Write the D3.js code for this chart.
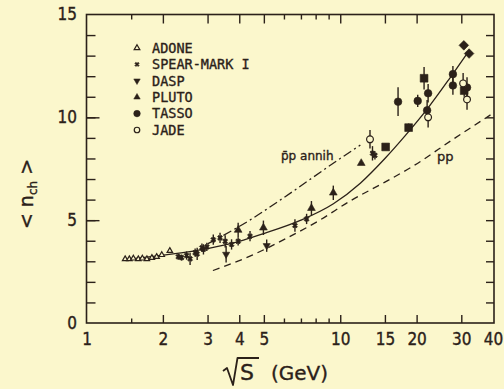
<!DOCTYPE html>
<html>
<head>
<meta charset="utf-8">
<script src="https://cdnjs.cloudflare.com/ajax/libs/d3/7.8.5/d3.min.js"></script>
<style>
  html, body { margin: 0; padding: 0; background: #fbf7cc; }
  svg { display: block; }
  text { fill: #2b2119; stroke: #2b2119; stroke-width: 0.35px; }
</style>
</head>
<body>
<svg id="chart" width="504" height="389"></svg>
<script>
// values: sqrt(s) in GeV, mean charged multiplicity
var adoneX = [1.42, 1.475, 1.53, 1.6, 1.66, 1.73, 1.81, 1.89, 1.98, 2.13];
var adoneY = [3.11, 3.11, 3.14, 3.11, 3.14, 3.11, 3.17, 3.22, 3.31, 3.51];

var spearX = [2.30, 2.37, 2.48, 2.56, 2.68, 2.73, 2.85, 2.89, 2.98, 3.16, 3.36, 3.52, 3.73, 3.96, 4.41, 6.63, 7.37, 13.4, 13.7];
var spearY = [3.22, 3.18, 3.28, 3.12, 3.42, 3.36, 3.66, 3.58, 3.70, 4.05, 4.14, 3.97, 3.82, 3.97, 4.22, 4.74, 5.06, 8.25, 8.15];
var spearErr = [0.15, 0.15, 0.2, 0.3, 0.2, 0.3, 0.2, 0.25, 0.2, 0.25, 0.25, 0.3, 0.25, 0.2, 0.25, 0.3, 0.25, 0.35, 0.2];

var daspX = [3.55, 5.13];
var daspY = [3.34, 3.76];
var daspErr = [0.4, 0.3];

var plutoX = [3.96, 4.98, 7.70, 9.39, 12.1];
var plutoY = [4.52, 4.63, 5.58, 6.33, 7.77];
var plutoErr = [0.35, 0.35, 0.35, 0.35, 0];

var tassoX = [16.9, 20.2, 22.0, 22.2, 27.8, 27.8, 31.6];
var tassoY = [10.76, 10.8, 10.34, 11.17, 12.1, 11.55, 11.45];
var tassoErr = [0.7, 0.3, 0.5, 0.45, 0.4, 0.45, 0.5];

var jadeX = [13.1, 22.2, 30.5, 31.6];
var jadeY = [8.93, 10.0, 11.65, 10.87];
var jadeErr = [0.45, 0.5, 0.5, 0.5];

// unlabelled marks (squares, diamonds)
var squareX = [15.1, 18.6, 21.4, 30.8];
var squareY = [8.56, 9.5, 11.9, 11.3];
var squareErr = [0.15, 0.2, 0.55, 0.3];
var diamondX = [30.7, 32.2];
var diamondY = [13.5, 13.1];

// curves
var fitX = [1.4, 2, 3, 4, 5, 7, 9.4, 12, 15, 18, 22, 27, 32];
var fitY = [3.08, 3.3, 3.62, 3.97, 4.35, 5.0, 5.8, 6.8, 8.0, 9.1, 10.4, 11.9, 13.2];
var annX = [3.0, 4.4, 6.0, 10, 12];
var annY = [3.85, 5.0, 6.1, 8.0, 8.65];
var ppX = [3.15, 4.5, 6.1, 8.3, 11, 15, 19.2, 28, 40];
var ppY = [2.55, 3.3, 4.1, 5.0, 5.95, 6.85, 7.6, 8.95, 10.2];

var xLabels = [1, 2, 3, 4, 5, 10, 15, 20, 30, 40];
var xMajor = [2, 3, 4, 5, 10, 15, 20, 30];
var xMinor = [1.5, 6, 7, 8, 9];
var yLabels = [0, 5, 10, 15];
var legendNames = ['ADONE', 'SPEAR-MARK I', 'DASP', 'PLUTO', 'TASSO', 'JADE'];

var INK = '#2b2119';
var BG = '#fbf7cc';
var svg = d3.select('#chart');

var frameLeft = 86.5, frameRight = 494, frameTop = 14.5, frameBottom = 323;
var x = d3.scaleLog().domain([1, 40]).range([frameLeft, 493]);
var y = d3.scaleLinear().domain([0, 15]).range([frameBottom, frameTop]);

var tickFont = '"DejaVu Sans Condensed", "DejaVu Sans", sans-serif';

function axisGroup(axis, tx, ty) {
  var g = svg.append('g')
    .attr('transform', 'translate(' + tx + ',' + ty + ')')
    .call(axis);
  g.select('.domain').remove();
  g.selectAll('line').attr('stroke', INK).attr('stroke-width', 1.4);
  g.selectAll('text')
    .attr('fill', INK)
    .style('font-family', tickFont)
    .style('font-stretch', 'condensed')
    .style('font-size', '17px');
  return g;
}

// tick labels
axisGroup(d3.axisBottom(x).tickValues(xLabels).tickFormat(d3.format('d')).tickSize(0).tickPadding(10), 0, frameBottom);
axisGroup(d3.axisLeft(y).tickValues(yLabels).tickSize(0).tickPadding(9.5), frameLeft, 0);

// inward ticks
axisGroup(d3.axisBottom(x).tickValues(xMajor).tickFormat('').tickSize(-8), 0, frameBottom);
axisGroup(d3.axisBottom(x).tickValues(xMinor).tickFormat('').tickSize(-4.5), 0, frameBottom);
axisGroup(d3.axisTop(x).tickValues(xMajor).tickFormat('').tickSize(-9), 0, frameTop);
axisGroup(d3.axisTop(x).tickValues(xMinor).tickFormat('').tickSize(-5), 0, frameTop);
axisGroup(d3.axisLeft(y).tickValues(d3.range(1, 15)).tickFormat('').tickSize(-9), frameLeft, 0);
axisGroup(d3.axisLeft(y).tickValues([5, 10]).tickFormat('').tickSize(-13), frameLeft, 0);
axisGroup(d3.axisRight(y).tickValues(d3.range(1, 15)).tickFormat('').tickSize(-8), frameRight, 0);

svg.append('rect')
  .attr('x', frameLeft).attr('y', frameTop)
  .attr('width', frameRight - frameLeft).attr('height', frameBottom - frameTop)
  .attr('fill', 'none').attr('stroke', INK).attr('stroke-width', 1.6);

// curves
var line = d3.line()
  .x(function(d) { return x(d[0]); })
  .y(function(d) { return y(d[1]); })
  .curve(d3.curveMonotoneX);

function curve(xs, ys, dash) {
  svg.append('path')
    .datum(d3.zip(xs, ys))
    .attr('d', line)
    .attr('fill', 'none')
    .attr('stroke', INK)
    .attr('stroke-width', 1.3)
    .attr('stroke-dasharray', dash);
}
curve(fitX, fitY, null);
curve(annX, annY, '9,3.5,2,3.5');
curve(ppX, ppY, '7,5');

// data points
function series(xs, ys, errs, shape, size, filled, rotate) {
  var pts = xs.map(function(v, i) {
    return { x: v, y: ys[i], e: errs ? errs[i] : 0 };
  });
  var g = svg.append('g');
  g.selectAll('line.err')
    .data(pts.filter(function(d) { return d.e > 0; }))
    .enter().append('line')
    .attr('class', 'err')
    .attr('x1', function(d) { return x(d.x); })
    .attr('x2', function(d) { return x(d.x); })
    .attr('y1', function(d) { return y(d.y - d.e); })
    .attr('y2', function(d) { return y(d.y + d.e); })
    .attr('stroke', INK)
    .attr('stroke-width', 1.4);
  g.selectAll('path')
    .data(pts)
    .enter().append('path')
    .attr('d', d3.symbol().type(shape).size(size))
    .attr('transform', function(d) {
      return 'translate(' + x(d.x) + ',' + y(d.y) + ') rotate(' + (rotate || 0) + ')';
    })
    .attr('fill', filled ? INK : BG)
    .attr('stroke', INK)
    .attr('stroke-width', filled ? 0.6 : 1.2);
}

series(adoneX, adoneY, null, d3.symbolTriangle, 13, false);
series(spearX, spearY, spearErr, d3.symbolCross, 16, true, 45);
series(daspX, daspY, daspErr, d3.symbolTriangle, 22, true, 180);
series(plutoX, plutoY, plutoErr, d3.symbolTriangle, 26, true);
series(squareX, squareY, squareErr, d3.symbolSquare, 60, true);
series(diamondX, diamondY, null, d3.symbolSquare, 46, true, 45);
series(tassoX, tassoY, tassoErr, d3.symbolCircle, 46, true);
series(jadeX, jadeY, jadeErr, d3.symbolCircle, 36, false);

// legend
var legendShapes = [
  { type: d3.symbolTriangle, size: 14, filled: false, rot: 0 },
  { type: d3.symbolCross, size: 12, filled: true, rot: 45 },
  { type: d3.symbolTriangle, size: 18, filled: true, rot: 180 },
  { type: d3.symbolTriangle, size: 18, filled: true, rot: 0 },
  { type: d3.symbolCircle, size: 34, filled: true, rot: 0 },
  { type: d3.symbolCircle, size: 24, filled: false, rot: 0 }
];
var legend = svg.append('g');
legendNames.forEach(function(name, i) {
  var ly = 48 + i * 16.4;
  var s = legendShapes[i];
  legend.append('path')
    .attr('d', d3.symbol().type(s.type).size(s.size))
    .attr('transform', 'translate(137,' + ly + ') rotate(' + s.rot + ')')
    .attr('fill', s.filled ? INK : 'none')
    .attr('stroke', INK)
    .attr('stroke-width', s.filled ? 0.5 : 1.2);
  legend.append('text')
    .attr('x', 152).attr('y', ly)
    .attr('dy', '0.36em')
    .style('font-family', '"DejaVu Sans Mono", monospace')
    .style('font-size', '13.5px')
    .text(name);
});

// curve labels
svg.append('text')
  .attr('x', 281).attr('y', 160)
  .style('font-family', '"DejaVu Sans", sans-serif')
  .style('font-size', '12px')
  .text('p\u0304p annih');
svg.append('text')
  .attr('x', 437).attr('y', 161)
  .style('font-family', '"DejaVu Sans", sans-serif')
  .style('font-size', '13px')
  .text('pp');

// axis titles
var yTitle = svg.append('text')
  .attr('transform', 'translate(33,194) rotate(-90)')
  .attr('text-anchor', 'middle')
  .style('font-family', '"DejaVu Sans", sans-serif')
  .style('font-size', '19px');
yTitle.append('tspan').text('< n');
yTitle.append('tspan').attr('dy', 4).style('font-size', '12px').text('ch');
yTitle.append('tspan').attr('dy', -4).text(' >');

svg.append('path')
  .attr('d', 'M223,371 L227,368 L233,385 L237.5,358 L259,358')
  .attr('fill', 'none')
  .attr('stroke', INK)
  .attr('stroke-width', 1.8)
  .attr('stroke-linejoin', 'round');
svg.append('text')
  .attr('x', 240).attr('y', 380)
  .style('font-family', '"DejaVu Sans", sans-serif')
  .style('font-size', '22px')
  .text('S');
svg.append('text')
  .attr('x', 271).attr('y', 380)
  .style('font-family', '"DejaVu Sans", sans-serif')
  .style('font-size', '20px')
  .text('(GeV)');
</script>
</body>
</html>
